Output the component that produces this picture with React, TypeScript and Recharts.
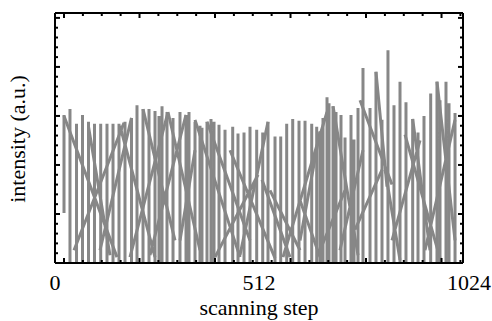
import React from 'react';
import { LineChart, Line, XAxis, YAxis } from 'recharts';

// scanning-step positions of the intensity spikes
const barX = [
  22.6, 37.6, 54.0, 69.0, 84.1, 99.1, 114.7, 130.5, 145.6, 160.6,
  175.7, 192.0, 205.8, 220.9, 235.9, 251.0, 261.0, 268.6, 281.1, 296.2,
  313.7, 328.8, 336.3, 351.4, 363.9, 368.9, 381.5, 391.5, 399.1, 411.6,
  426.7, 446.0, 459.3, 474.4, 489.4, 506.2, 521.3, 534.6, 552.2, 566.5,
  581.5, 596.6, 612.4, 627.5, 644.3, 656.8, 665.1, 672.6, 682.7, 687.7,
  697.8, 705.3, 717.8, 727.9, 742.9, 750.4, 760.5, 773.0, 790.6, 805.6,
  820.7, 835.7, 850.8, 865.9, 880.9, 897.7, 911.1, 926.1, 942.9, 958.7,
  966.3, 981.3, 988.9, 1004,
];
// peak intensity of each spike (a.u.)
const barPeak = [
  15.1, 15.7, 14.2, 15.1, 14.4, 14.2, 14.2, 14.2, 14.2, 14.2,
  14.4, 14.8, 16.1, 15.7, 15.7, 15.5, 15.0, 16.0, 15.4, 14.8,
  15.4, 15.1, 15.4, 14.4, 14.0, 13.8, 14.4, 14.7, 14.4, 14.1,
  13.6, 13.9, 13.2, 13.3, 13.9, 13.6, 13.3, 14.4, 12.9, 12.9,
  14.2, 14.7, 14.5, 14.5, 14.2, 13.9, 13.4, 14.8, 16.9, 16.3,
  16.0, 15.4, 15.1, 12.8, 15.1, 12.6, 15.8, 19.9, 15.8, 19.5,
  14.6, 21.7, 16.1, 18.5, 16.4, 14.7, 13.3, 15.0, 17.3, 18.5,
  16.6, 18.5, 16.3, 15.3,
];
const firstBarBase = 5.1;

// connecting traces between spikes (start -> end)
const traceX0 = [22.6, 47.7, 163.1, 188.2, 283.6, 313.7, 351.4, 401.6, 439.2, 519.5, 572.2, 614.9, 665.1, 765.5, 753.0, 828.3, 845.8, 878.4, 928.6, 805.6,
  84.1, 112.9, 220.9, 238.4, 381.5, 464.3, 539.6, 614.9, 697.8, 715.3, 897.7, 958.7];
const traceY0 = [15.0, 1.3, 14.0, 0.6, 15.4, 2.3, 14.6, 0.6, 11.5, 8.5, 0.6, 6.4, 1.3, 16.6, 3.4, 9.5, 2.3, 13.1, 1.3, 19.5,
  13.9, 1.3, 15.7, 0.8, 14.4, 0.8, 7.4, 2.3, 16.0, 1.3, 14.7, 18.5];
const traceX1 = [155.6, 173.2, 251.0, 283.6, 363.9, 351.4, 464.3, 509.5, 552.2, 589.8, 682.7, 665.1, 727.9, 845.8, 820.7, 865.9, 916.1, 966.3, 1004, 833.2,
  138.0, 192.0, 301.2, 328.8, 489.4, 534.6, 614.9, 665.1, 760.5, 773.0, 941.2, 1004];
const traceY1 = [0.6, 14.3, 0.6, 15.4, 1.3, 11.5, 0.6, 9.0, 0.5, 0.6, 15.4, 0.6, 7.4, 8.0, 9.5, 0.3, 12.5, 0.5, 14.6, 7.8,
  0.8, 14.8, 2.3, 15.1, 2.3, 14.4, 1.3, 13.4, 0.8, 11.5, 1.3, 2.3];

const xTickLabels = [0, 512, 1024];
const xMinorTicks = [22.6, 70.0, 117.4, 164.7, 212.1, 259.5, 306.9, 354.2, 401.6, 449.0, 496.4, 543.7, 591.1, 638.5, 685.9, 733.2, 780.6, 828.0, 875.4, 922.7, 970.1, 1017.5];
const xMajorTicks = [22.6, 212.1, 401.6, 591.1, 780.6, 970.1];
const yMinorTicks = [0, 1, 2, 3, 4, 5, 6, 7, 8, 9, 10, 11, 12, 13, 14, 15, 16, 17, 18, 19, 20, 21, 22, 23, 24, 25];
const yMajorTicks = [0, 5, 10, 15, 20, 25];

const barData = barX.flatMap((x, i) => [
  { x, y: i === 0 ? firstBarBase : 0 },
  { x, y: barPeak[i] },
  { x, y: null },
]);
const traceData = traceX0.flatMap((x, i) => [
  { x, y: traceY0[i] },
  { x: traceX1[i], y: traceY1[i] },
  { x: traceX1[i], y: null },
]);

const FONT = "'Liberation Serif', 'Times New Roman', serif";
const GRAY = '#878787';
const MINOR = 3;
const MAJOR = 5;

const BottomTick = (props: any) => {
  const { x, y, payload } = props;
  const v = payload.value;
  if (xTickLabels.includes(v)) {
    const shift = v === 1024 ? 6 : 0;
    return (
      <text x={x + shift} y={y + 27} textAnchor="middle" fontFamily={FONT} fontSize={22} fill="#000">{v}</text>
    );
  }
  const len = xMajorTicks.includes(v) ? MAJOR : MINOR;
  return <line x1={x} x2={x} y1={y} y2={y - len} stroke="#000" strokeWidth={2} />;
};
const TopTick = (props: any) => {
  const { x, y, payload } = props;
  const len = xMajorTicks.includes(payload.value) ? MAJOR : MINOR;
  return <line x1={x} x2={x} y1={y} y2={y + len} stroke="#000" strokeWidth={2} />;
};
const LeftTick = (props: any) => {
  const { x, y, payload } = props;
  const len = yMajorTicks.includes(payload.value) ? MAJOR : MINOR;
  return <line x1={x} x2={x + len} y1={y} y2={y} stroke="#000" strokeWidth={2} />;
};
const RightTick = (props: any) => {
  const { x, y, payload } = props;
  const len = yMajorTicks.includes(payload.value) ? MAJOR : MINOR;
  return <line x1={x} x2={x - len} y1={y} y2={y} stroke="#000" strokeWidth={2} />;
};

const X_DOMAIN: [number, number] = [0, 1024];
const Y_DOMAIN: [number, number] = [0, 25.5];
const AXIS_LINE = { stroke: '#000', strokeWidth: 2 };

export default function App() {
  return (
    <div style={{ position: 'absolute', left: 0, top: 0, width: 492, height: 321, background: '#fff' }}>
      <LineChart width={492} height={321} margin={{ top: 12, right: 28, bottom: 57, left: 54 }}>
        <XAxis xAxisId="x" dataKey="x" type="number" domain={X_DOMAIN} ticks={[...xTickLabels, ...xMinorTicks]}
          height={1} orientation="bottom" stroke="#000" axisLine={AXIS_LINE} tickLine={false}
          tickSize={0} tickMargin={0} tick={<BottomTick />} interval={0} allowDataOverflow />
        <XAxis xAxisId="xTop" dataKey="x" type="number" domain={X_DOMAIN} ticks={xMinorTicks}
          height={1} orientation="top" stroke="#000" axisLine={AXIS_LINE} tickLine={false}
          tickSize={0} tickMargin={0} tick={<TopTick />} interval={0} allowDataOverflow />
        <YAxis yAxisId="y" type="number" domain={Y_DOMAIN} ticks={yMinorTicks} width={1}
          orientation="left" stroke="#000" axisLine={AXIS_LINE} tickLine={false}
          tickSize={0} tickMargin={0} tick={<LeftTick />} interval={0} allowDataOverflow />
        <YAxis yAxisId="yR" type="number" domain={Y_DOMAIN} ticks={yMinorTicks} width={1}
          orientation="right" stroke="#000" axisLine={AXIS_LINE} tickLine={false}
          tickSize={0} tickMargin={0} tick={<RightTick />} interval={0} allowDataOverflow />
        <Line xAxisId="x" yAxisId="y" data={traceData} dataKey="y" type="linear" stroke={GRAY}
          strokeWidth={3} dot={false} activeDot={false} connectNulls={false} isAnimationActive={false} />
        <Line xAxisId="x" yAxisId="y" data={barData} dataKey="y" type="linear" stroke={GRAY}
          strokeWidth={3} dot={false} activeDot={false} connectNulls={false} isAnimationActive={false} />
      </LineChart>
      <svg width={492} height={321} style={{ position: 'absolute', left: 0, top: 0, pointerEvents: 'none' }}>
        <text x={259} y={315} textAnchor="middle" fontFamily={FONT} fontSize={22} fill="#000">scanning step</text>
        <text x={25} y={139} textAnchor="middle" fontFamily={FONT} fontSize={22} fill="#000"
          transform="rotate(-90, 25, 139)">intensity (a.u.)</text>
      </svg>
    </div>
  );
}
